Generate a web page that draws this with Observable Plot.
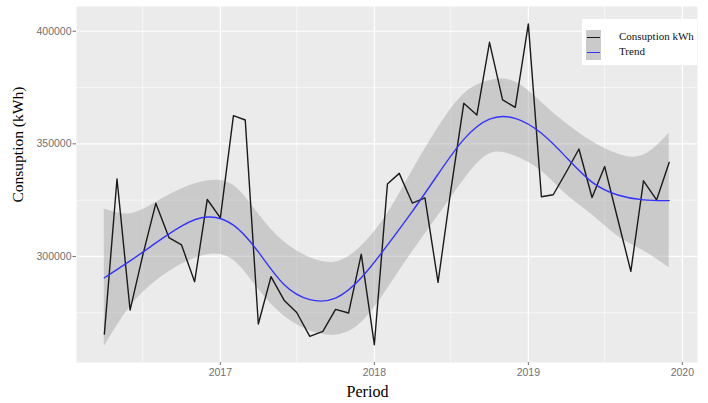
<!DOCTYPE html>
<html>
<head>
<meta charset="utf-8">
<script src="https://cdn.jsdelivr.net/npm/d3@7"></script>
<script src="https://cdn.jsdelivr.net/npm/@observablehq/plot@0.6"></script>
<style>
  body { margin: 0; background: white; }
  #chart { position: relative; width: 708px; height: 403px; }
  .legend {
    position: absolute; left: 582px; top: 19px; width: 115px; height: 46px;
    background: white; font-family: "Liberation Serif", "Times New Roman", serif; font-size: 11px;
  }
  .legend .key { position: absolute; left: 4px; width: 15px; height: 15px; background: #cacaca; }
  .legend .key i { position: absolute; left: 1px; right: 1px; top: 7px; height: 1.3px; }
  .legend .lab { position: absolute; left: 37px; line-height: 15px; color: #111; }
</style>
</head>
<body>
<div id="chart">
  <div class="legend">
    <div class="key" style="top:11px"><i style="background:#1a1a1a"></i></div>
    <div class="lab" style="top:10px">Consuption kWh</div>
    <div class="key" style="top:26px"><i style="background:#3333ff"></i></div>
    <div class="lab" style="top:25px">Trend</div>
  </div>
</div>
<script>
// consumo mensual (kWh), abr 2016 - dic 2019
const months = [
  "2016-04","2016-05","2016-06","2016-07","2016-08","2016-09","2016-10","2016-11","2016-12",
  "2017-01","2017-02","2017-03","2017-04","2017-05","2017-06","2017-07","2017-08","2017-09","2017-10","2017-11","2017-12",
  "2018-01","2018-02","2018-03","2018-04","2018-05","2018-06","2018-07","2018-08","2018-09","2018-10","2018-11","2018-12",
  "2019-01","2019-02","2019-03","2019-04","2019-05","2019-06","2019-07","2019-08","2019-09","2019-10","2019-11","2019-12"
]
const consumption = [
  265500, 334400, 276200, 300500, 323600, 308400, 305100, 288800, 325300,
  317100, 362500, 360600, 270000, 291000, 280600, 275100, 264500, 266700, 276500, 274900, 301000,
  260800, 332200, 336900, 323700, 326000, 288500, 329000, 368000, 362800, 395100, 369500, 366200,
  403300, 326500, 327400, 337500, 347700, 326200, 339900, 316500, 293400, 333600, 325100, 341800
]

// tendencia (loess) y banda de confianza, leidas cada 2 meses
const trendMonths = [
  "2016-04","2016-06","2016-08","2016-10","2016-12","2017-02","2017-04","2017-06","2017-08","2017-10","2017-12",
  "2018-02","2018-04","2018-06","2018-08","2018-10","2018-12","2019-02","2019-04","2019-06","2019-08","2019-10","2019-12"
]
const trend = [290500, 298000, 306000, 313500, 317500, 313900, 302000, 287500, 280800, 281500, 290500,
  305000, 320000, 336500, 352000, 361000, 361300, 354700, 344000, 333000, 327300, 325100, 324800]
const upper = [321100, 319000, 324000, 330000, 333500, 331600, 319000, 306500, 299500, 297500, 304500,
  319000, 338000, 357000, 372000, 378000, 377500, 368500, 359000, 351000, 345500, 345000, 354700]
const lower = [260000, 277500, 289000, 296500, 300800, 298300, 285500, 273500, 267000, 265000, 270500,
  285500, 302000, 318000, 334000, 345500, 344500, 338000, 327500, 318500, 309000, 302500, 295000]

const yMajor = [300000, 350000, 400000]
const yMinor = [275000, 325000, 375000]
const xMajor = ["2017-01", "2018-01", "2019-01", "2020-01"]
const xMinor = ["2016-07", "2017-07", "2018-07", "2019-07"]

const parse = d3.utcParse("%Y-%m")
const data = months.map((m, i) => ({date: parse(m), value: consumption[i]}))
const smooth = trendMonths.map((m, i) => ({date: parse(m), trend: trend[i], lo: lower[i], hi: upper[i]}))

const chart = Plot.plot({
  width: 708,
  height: 403,
  marginLeft: 76,
  marginRight: 11,
  marginTop: 6,
  marginBottom: 41,
  style: {fontFamily: "'Liberation Sans', Arial, sans-serif", background: "white"},
  x: {type: "utc", domain: [new Date(Date.UTC(2016, 0, 26)), new Date(Date.UTC(2020, 1, 6))]},
  y: {domain: [252900, 411000]},
  marks: [
    Plot.frame({fill: "#ebebeb", stroke: null}),
    Plot.ruleY(yMinor, {stroke: "white", strokeWidth: 0.6}),
    Plot.ruleX(xMinor.map(parse), {stroke: "white", strokeWidth: 0.6}),
    Plot.ruleY(yMajor, {stroke: "white", strokeWidth: 1.2}),
    Plot.ruleX(xMajor.map(parse), {stroke: "white", strokeWidth: 1.2}),
    Plot.areaY(smooth, {x: "date", y1: "lo", y2: "hi", fill: "#999999", fillOpacity: 0.4, curve: "natural"}),
    Plot.line(data, {x: "date", y: "value", stroke: "#1a1a1a", strokeWidth: 1.4}),
    Plot.line(smooth, {x: "date", y: "trend", stroke: "#3333ff", strokeWidth: 1.4, curve: "natural"}),
    Plot.axisY(yMajor, {tickFormat: d3.format("d"), tickSize: 3.5, tickPadding: 1.5, fontSize: 10.5, color: "#707070", label: null}),
    Plot.axisX(xMajor.map(parse), {tickFormat: d3.utcFormat("%Y"), tickSize: 3, tickPadding: 3, fontSize: 10.5, color: "#707070", label: null}),
    Plot.text(["Consuption (kWh)"], {frameAnchor: "left", rotate: -90, dx: -58, dy: 18, lineAnchor: "middle",
      fontFamily: "'Liberation Serif', 'Times New Roman', serif", fontSize: 15.5, fill: "black"}),
    Plot.text(["Period"], {frameAnchor: "bottom", dx: -19.5, dy: 29, lineAnchor: "middle",
      fontFamily: "'Liberation Serif', 'Times New Roman', serif", fontSize: 16, fill: "black"})
  ]
})

d3.select("#chart").insert(() => chart, ".legend")
</script>
</body>
</html>
